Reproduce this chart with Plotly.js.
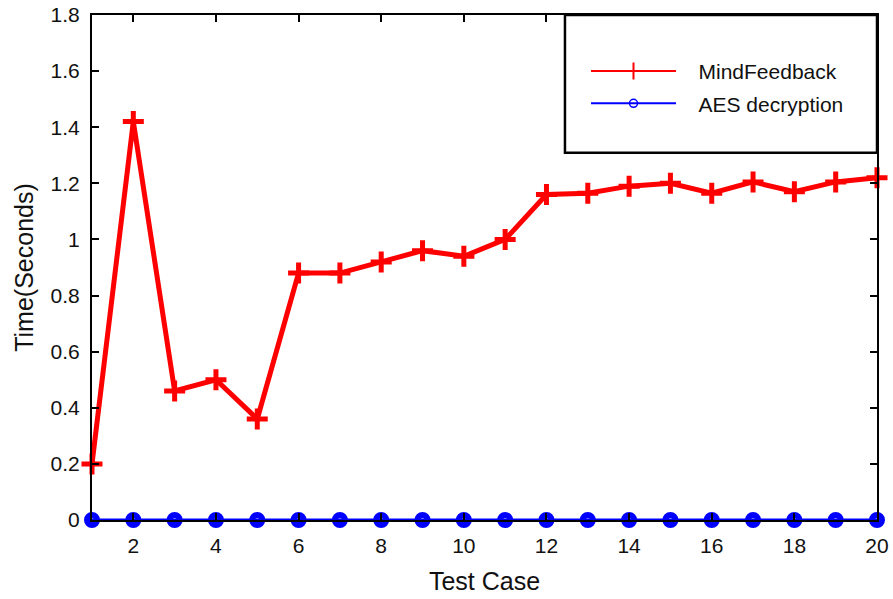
<!DOCTYPE html>
<html>
<head>
<meta charset="utf-8">
<script src="https://cdn.plot.ly/plotly-3.0.1.min.js"></script>
<style>html,body{margin:0;padding:0;background:#fff;}#chart{width:893px;height:599px;}</style>
</head>
<body>
<div id="chart"></div>
<script>
const testCases = [1,2,3,4,5,6,7,8,9,10,11,12,13,14,15,16,17,18,19,20];
const mindFeedback = [0.20,1.42,0.46,0.50,0.36,0.88,0.88,0.92,0.96,0.94,1.00,1.16,1.165,1.19,1.20,1.165,1.205,1.17,1.205,1.22];
const aesDecryption = [0,0,0,0,0,0,0,0,0,0,0,0,0,0,0,0,0,0,0,0];
const seriesNames = ["MindFeedback","AES decryption"];
const xTicks = [2,4,6,8,10,12,14,16,18,20];
const yTicks = [0,0.2,0.4,0.6,0.8,1,1.2,1.4,1.6,1.8];

const FONT = "Liberation Sans, Arial, sans-serif";
const PAD = "\u00a0\u00a0\u00a0";

const traces = [
  {x: testCases, y: aesDecryption, mode: "lines+markers", showlegend: false, cliponaxis: false,
   line: {color: "#0000ff", width: 3},
   marker: {symbol: "circle-open", size: 10, color: "#0000ff", line: {color: "#0000ff", width: 6}}},
  {x: testCases, y: mindFeedback, mode: "lines+markers", showlegend: false, cliponaxis: false,
   line: {color: "#ff0000", width: 5},
   marker: {symbol: "cross-thin-open", size: 15, color: "#ff0000", line: {color: "#ff0000", width: 5}}},
  {x: [null], y: [null], name: PAD + seriesNames[0], mode: "lines+markers", legendgroup: "a", legendrank: 1,
   line: {color: "#ff0000", width: 2},
   marker: {symbol: "cross-thin-open", size: 12, color: "#ff0000", line: {color: "#ff0000", width: 2}}},
  {x: [null], y: [null], name: PAD + seriesNames[1], mode: "lines+markers", legendgroup: "b", legendrank: 2,
   line: {color: "#0000ff", width: 2},
   marker: {symbol: "circle-open", size: 8, color: "#0000ff", line: {color: "#0000ff", width: 1.5}}}
];

const layout = {
  width: 893, height: 599,
  margin: {l: 92, r: 16, t: 15, b: 79, pad: 0},
  paper_bgcolor: "#ffffff", plot_bgcolor: "#ffffff",
  font: {family: FONT, size: 20, color: "#111111"},
  showlegend: true,
  legend: {x: (586 - 92) / 785, y: 0.929, xanchor: "left", yanchor: "top",
    bgcolor: "rgba(0,0,0,0)", borderwidth: 0, itemwidth: 85,
    traceorder: "grouped", tracegroupgap: 2,
    font: {family: FONT, size: 21, color: "#111111"}},
  xaxis: {range: [1, 20], tickmode: "array", tickvals: xTicks, ticktext: xTicks.map(String),
    ticks: "inside", ticklen: 7, tickwidth: 2, tickcolor: "#000",
    showline: true, linecolor: "#000", linewidth: 2, mirror: "ticks",
    showgrid: false, zeroline: false, ticklabelstandoff: 6,
    tickfont: {family: FONT, size: 21, color: "#111"},
    title: {text: "Test Case", font: {family: FONT, size: 25, color: "#111"}, standoff: 16}},
  yaxis: {range: [0, 1.8], tickmode: "array", tickvals: yTicks, ticktext: yTicks.map(String),
    ticks: "inside", ticklen: 7, tickwidth: 2, tickcolor: "#000",
    showline: true, linecolor: "#000", linewidth: 2, mirror: "ticks",
    showgrid: false, zeroline: false, ticklabelstandoff: 6,
    tickfont: {family: FONT, size: 21, color: "#111"},
    title: {text: "Time(Seconds)", font: {family: FONT, size: 25, color: "#111"}, standoff: 10}},
  shapes: [
    {type: "rect", xref: "paper", yref: "paper", x0: 0.6025, x1: 1.0, y0: 0.727, y1: 1.0,
     line: {color: "#000", width: 2.5}, fillcolor: "#ffffff", layer: "above"}
  ]
};

Plotly.newPlot("chart", traces, layout, {displayModeBar: false, staticPlot: true});
</script>
</body>
</html>
